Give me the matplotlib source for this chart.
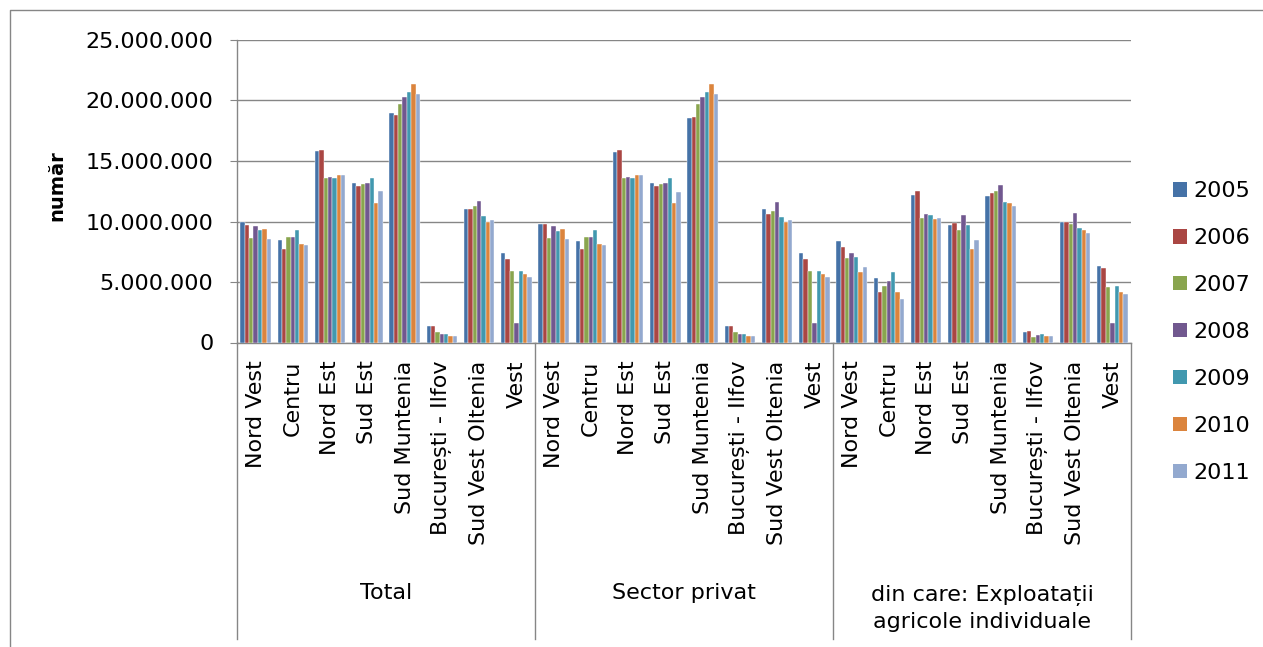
import numpy as np
import matplotlib.pyplot as plt
from matplotlib.lines import Line2D
from matplotlib.patches import Patch
import matplotlib.transforms as mtransforms

regions = ["Nord Vest", "Centru", "Nord Est", "Sud Est", "Sud Muntenia",
           "București - Ilfov", "Sud Vest Oltenia", "Vest"]
groups = ["Total", "Sector privat", "din care: Exploatații\nagricole individuale"]
years = ["2005", "2006", "2007", "2008", "2009", "2010", "2011"]

# values in millions, one list per region, 2005..2011
total = [
    [9.94, 9.75, 8.60, 9.59, 9.26, 9.42, 8.57],
    [8.46, 7.71, 8.68, 8.73, 9.26, 8.18, 8.02],
    [15.79, 15.95, 13.58, 13.66, 13.61, 13.88, 13.86],
    [13.22, 12.92, 13.06, 13.20, 13.58, 11.57, 12.48],
    [18.95, 18.84, 19.70, 20.28, 20.69, 21.35, 20.52],
    [1.35, 1.40, 0.85, 0.74, 0.74, 0.52, 0.52],
    [11.07, 11.05, 11.32, 11.68, 10.44, 10.00, 10.11],
    [7.38, 6.94, 5.90, 1.65, 5.87, 5.62, 5.40],
]
privat = [
    [9.83, 9.78, 8.60, 9.59, 9.23, 9.42, 8.57],
    [8.37, 7.71, 8.68, 8.71, 9.26, 8.18, 8.02],
    [15.76, 15.95, 13.58, 13.66, 13.61, 13.88, 13.86],
    [13.22, 12.92, 13.06, 13.20, 13.58, 11.57, 12.45],
    [18.57, 18.65, 19.70, 20.28, 20.69, 21.35, 20.52],
    [1.35, 1.38, 0.85, 0.74, 0.74, 0.52, 0.52],
    [11.07, 10.61, 10.88, 11.65, 10.41, 10.00, 10.11],
    [7.38, 6.94, 5.90, 1.65, 5.87, 5.62, 5.40],
]
individuale = [
    [8.37, 7.93, 7.00, 7.41, 7.05, 5.81, 6.28],
    [5.30, 4.19, 4.68, 5.07, 5.79, 4.19, 3.61],
    [12.23, 12.51, 10.25, 10.58, 10.52, 10.17, 10.25],
    [9.67, 9.89, 9.31, 10.50, 9.75, 7.71, 8.43],
    [12.12, 12.34, 12.48, 12.98, 11.60, 11.54, 11.29],
    [0.83, 0.96, 0.47, 0.66, 0.74, 0.52, 0.52],
    [9.97, 9.97, 9.83, 10.74, 9.45, 9.28, 9.01],
    [6.34, 6.17, 4.60, 1.65, 4.66, 4.19, 3.99],
]

colors = ["#4572A7", "#AA4643", "#89A54E", "#71588F", "#4198AF", "#DB843D", "#93A9CF"]

W, H = 1263, 647
fig = plt.figure(figsize=(W / 100, H / 100), dpi=100)
fig.patch.set_facecolor("white")
ax = fig.add_axes([237 / W, 1 - 342.5 / H, (1131 - 237) / W, (342.5 - 40) / H])

data = np.array(total + privat + individuale) * 1e6  # 24 categories x 7 years
x = np.arange(len(data))
bw = 0.824 / len(years)
for j, yr in enumerate(years):
    ax.bar(x - 0.412 + bw * (j + 0.5), data[:, j], width=bw, color=colors[j],
           edgecolor="white", linewidth=0.3, zorder=3)

ax.set_xlim(-0.5, len(data) - 0.5)
ax.set_ylim(0, 25e6)
ax.set_yticks(np.arange(0, 25e6 + 1, 5e6))
ax.set_yticklabels(["0", "5.000.000", "10.000.000", "15.000.000", "20.000.000", "25.000.000"])
ax.yaxis.grid(True, color="#868686", linewidth=1.0, zorder=0)
ax.set_xticks(x)
ax.set_xticklabels(regions * 3, rotation=90, fontsize=16)
ax.tick_params(axis="x", length=0, pad=13)
ax.tick_params(axis="y", length=5, color="#868686", labelsize=16, pad=12)
for s in ["top", "right"]:
    ax.spines[s].set_visible(False)
for s in ["left", "bottom"]:
    ax.spines[s].set_color("#868686")
    ax.spines[s].set_linewidth(1.0)
ax.set_ylabel("număr", fontsize=14, fontweight="bold")
ax.yaxis.set_label_coords((66 - 237) / (1131 - 237), 0.52)

# group separators and group labels under the category axis
tr = mtransforms.blended_transform_factory(ax.transData, fig.transFigure)
for b in [-0.5, 7.5, 15.5, 23.5]:
    fig.add_artist(Line2D([b, b], [1 - 342.5 / H, 1 - 639 / H], transform=tr,
                          color="#868686", linewidth=1.0))
for k, g in enumerate(groups):
    yc = 593 if k < 2 else 608.5
    fig.text(k * 8 + 3.5, 1 - yc / H, g, transform=tr, ha="center", va="center",
             fontsize=16, linespacing=1.4)

# outer chart border (left and top visible)
fig.add_artist(Line2D([9.5 / W, 9.5 / W, 1.0], [0.0, 1 - 10 / H, 1 - 10 / H],
                      transform=fig.transFigure, color="#868686", linewidth=1.0))

handles = [Patch(facecolor=c, edgecolor="none") for c in colors]
fig.legend(handles, years, loc="center left", bbox_to_anchor=(1173 / W, 1 - 332 / H),
           frameon=False, fontsize=16, handlelength=0.62, handleheight=0.62,
           handletextpad=0.3, labelspacing=1.21, borderpad=0, borderaxespad=0)

fig.savefig("out.png", dpi=100)
